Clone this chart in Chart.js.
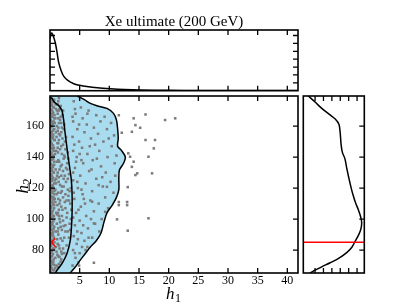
<!DOCTYPE html>
<html>
<head>
<meta charset="utf-8">
<script src="https://cdn.jsdelivr.net/npm/chart.js@4.4.0/dist/chart.umd.min.js"></script>
<style>
  html, body { margin: 0; padding: 0; background: #fff; }
  #wrap { position: relative; width: 405px; height: 304px; }
  #wrap canvas { position: absolute; left: 0; top: 0; }
</style>
</head>
<body>
<div id="wrap">
  <canvas id="main" width="405" height="304"></canvas>
  <canvas id="topm" width="405" height="304"></canvas>
  <canvas id="sidem" width="405" height="304"></canvas>
</div>
<script>
var SERIF = "'Liberation Serif', 'DejaVu Serif', serif";

var titleText = 'Xe ultimate (200 GeV)';
var h1Range = [0, 41.8];
var h2Range = [65.2, 179.4];
var h1Ticks = [5, 10, 15, 20, 25, 30, 35, 40];
var h2Ticks = [80, 100, 120, 140, 160];
var topTicks = [1, 2, 3, 4, 5, 6, 7];
var sideTicks = [1, 2, 3, 4, 5, 6];
var trueH2 = 85;

// contours [h1, h2], listed top to bottom
var outerContour = [[4.6,179.4],[5.8,177],[6.8,174.6],[7.9,173.1],[9.6,171.4],[10.7,168.2],[11.2,164],[11.4,158],
  [11.5,152],[11.4,147],[12.0,144.5],[12.7,140],[12.4,136],[11.7,131.6],[11.6,126],[11.6,119],[11.2,114],
  [10.5,109],[9.6,104],[9.1,98],[8.6,91],[7.8,86],[6.8,82],[5.9,77.5],[5.1,73.5],[4.3,69.2],[3.4,65.2]];
var innerContour = [[0.0,178.6],[0.35,177.8],[0.62,176],[1.0,174.6],[1.46,173.2],[1.8,171.5],[2.04,169.7],
  [2.3,164],[2.5,157],[2.76,149],[3.05,140.2],[3.3,133.7],[3.6,125],[3.72,116],[3.72,104],[3.62,95],
  [3.43,86.5],[2.88,77.9],[2.04,71.4],[1.2,67.1],[0.9,65.2]];
var trueMark = [[0.9,87.5],[0.24,85],[0.9,82.1]];

// samples [h1, h2]
var ptsEdge = [[0.1,66],[0.3,68],[0.15,69.5],[0.4,71],[0.2,73],[0.05,74.5],[0.35,76],[0.1,78],[0.25,79.5],
  [0.45,81],[0.1,83],[0.3,84.5],[0.2,86],[0.05,88],[0.4,89.5],[0.15,91],[0.3,93],[0.1,95],[0.35,96.5],
  [0.2,98],[0.05,100],[0.4,101.5],[0.15,103],[0.3,105],[0.1,107],[0.25,108.5],[0.45,110],[0.05,112],
  [0.3,113.5],[0.15,115],[0.35,117],[0.1,119],[0.25,120.5],[0.4,122],[0.05,124],[0.2,126],[0.35,127.5],
  [0.1,129],[0.3,131],[0.15,133],[0.45,134.5],[0.05,136],[0.25,138],[0.35,140],[0.1,141.5],[0.2,143],
  [0.4,145],[0.05,147],[0.3,148.5],[0.15,150],[0.35,152],[0.1,154],[0.25,155.5],[0.45,157],[0.05,159],
  [0.2,161],[0.35,162.5],[0.1,164],[0.3,166],[0.15,168],[0.4,169.5],[0.05,171],[0.25,173],[0.1,175],
  [0.35,176.5],[0.2,178]];
var ptsEdge2 = [[0.5,67],[0.2,68.8],[0.7,70.5],[0.35,72.3],[0.6,74],[0.15,75.8],[0.5,77.5],[0.3,79.2],
  [0.7,81],[0.2,82.7],[0.55,84.4],[0.35,86.2],[0.65,88],[0.25,89.7],[0.5,91.5],[0.15,93.2],[0.7,95],
  [0.4,96.8],[0.55,98.5],[0.25,100.3],[0.65,102],[0.35,103.8],[0.5,105.5],[0.2,107.3],[0.7,109],
  [0.4,110.8],[0.55,112.5],[0.25,114.3],[0.65,116],[0.35,117.8],[0.5,119.5],[0.15,121.3],[0.7,123],
  [0.4,124.8],[0.55,126.5],[0.25,128.3],[0.65,130],[0.35,131.8],[0.5,133.5],[0.2,135.3],[0.7,137],
  [0.4,138.8],[0.55,140.5],[0.25,142.3],[0.65,144],[0.35,145.8],[0.5,147.5],[0.15,149.3],[0.7,151],
  [0.4,152.8],[0.55,154.5],[0.25,156.3],[0.65,158],[0.35,159.8],[0.5,161.5],[0.2,163.3],[0.7,165],
  [0.4,166.8],[0.55,168.5],[0.25,170.3],[0.65,172],[0.35,173.8],[0.5,175.5],[0.2,177.3]];
var ptsNear = [[0.7,67],[1.1,70],[0.55,72.5],[0.9,75],[1.25,77],[0.6,80],[1.0,82],[0.75,85],[1.2,87],
  [0.5,90],[0.95,92],[0.65,95],[1.15,97],[0.8,100],[0.55,102],[1.05,104],[0.7,107],[1.25,109],[0.9,111],
  [0.6,114],[1.1,116],[0.75,118],[0.5,121],[1.0,123],[0.85,125],[1.2,128],[0.6,130],[0.95,132],[0.7,135],
  [1.15,137],[0.55,139],[0.85,142],[1.05,144],[0.65,146],[1.25,149],[0.8,151],[0.5,153],[1.0,156],
  [0.7,158],[1.15,160],[0.6,163],[0.9,165],[0.75,167],[1.2,170],[0.55,172],[0.95,174],[0.7,177],
  [0.85,68.5],[1.1,79],[0.6,93.5],[1.2,103],[0.8,113],[1.05,126],[0.6,141],[1.1,153],[0.8,162],
  [1.0,171],[0.65,88],[0.9,119]];
var ptsNear2 = [[1.3,69],[1.8,72.5],[1.4,76],[2.0,77.5],[1.5,83],[1.8,87.5],[1.3,92],[2.3,95.5],[1.6,100],
  [1.35,104],[2.1,106],[1.7,112],[2.2,114],[1.35,117],[2.0,121],[1.45,124],[2.5,128],[1.3,130],[2.0,135],
  [1.55,137],[2.3,139],[1.35,143],[1.9,147],[1.4,149],[2.1,152],[1.7,154],[1.3,157],[2.0,159],[1.5,162],
  [1.8,166],[1.3,168],[1.6,171],[1.3,174],[1.5,178],[2.8,112],[3.0,119],[2.6,96],[2.9,132],[2.6,145],
  [2.2,170]];
var ptsMid = [[1.5,71],[1.9,74],[2.4,78],[1.6,81],[2.8,83],[2.1,86],[3.2,88],[1.4,90],[2.6,92],[1.8,95],
  [3.3,97],[2.2,99],[1.5,102],[2.9,104],[3.6,106],[1.9,108],[2.5,111],[1.4,113],[3.1,115],[2.0,118],
  [3.5,120],[1.7,122],[2.7,124],[1.5,127],[3.2,129],[2.2,131],[1.8,134],[2.9,136],[1.4,138],[2.5,140],
  [3.0,143],[1.7,145],[2.2,148],[1.5,151],[2.7,153],[1.9,156],[1.4,159],[2.4,161],[1.7,164],[2.1,167],
  [1.5,170],[1.8,173],[1.4,176],[2.0,93],[1.6,110],[2.3,126],[1.3,146],[2.6,116],[3.4,110],[2.0,102],
  [1.3,84],[2.4,141],[1.9,128],[3.0,92],[1.6,75.5],[2.2,81],[3.4,93],[2.8,101],[1.5,106],[3.3,118],
  [2.3,121],[1.6,132],[2.7,133],[3.1,139],[2.0,142],[1.5,155],[2.3,158],[1.9,162],[1.4,165],[2.5,150],
  [3.0,126],[1.8,117],[2.6,107],[1.7,98],[3.5,100],[2.4,88],[1.9,79],[1.4,94],[3.2,112]];
var ptsBand = [[4.0,176],[5.2,172],[6.5,170],[4.3,168],[7.8,167],[9.2,166],[5.5,165],[3.9,163],[8.5,163],
  [10.3,162],[6.2,161],[7.4,159],[4.6,158],[9.6,158],[5.8,156],[8.1,155],[10.8,154],[3.8,153],[6.9,152],
  [4.9,150],[9.0,150],[7.6,148],[10.4,147],[5.4,146],[3.9,144],[8.3,144],[6.3,142],[11.2,141],[4.5,140],
  [9.7,140],[7.2,138],[5.6,136],[10.9,136],[8.6,134],[4.2,133],[6.6,131],[9.4,130],[11.0,128],[5.1,128],
  [7.8,126],[3.9,125],[10.2,124],[6.0,123],[8.9,121],[4.7,120],[7.1,118],[10.7,117],[5.5,116],[9.3,114],
  [4.1,113],[6.8,112],[8.2,110],[5.2,108],[9.8,107],[7.4,105],[4.4,104],[6.1,102],[8.7,100],[5.0,99],
  [7.6,97],[4.2,96],[6.4,94],[8.3,92],[5.3,91],[4.0,89],[7.1,88],[5.8,86],[4.5,84],[6.3,82],[3.9,80],
  [5.0,78],[4.3,75],[4.8,72],[3.8,70],[6.0,80],[4.6,92],[5.9,110],[6.7,147],[7.9,139],[8.8,127],
  [9.9,152],[6.3,168],[7.0,132],[5.3,138],[4.2,171],[3.8,166],[4.9,161],[4.1,148],[5.0,142],[4.4,137],
  [3.9,130],[4.6,124],[5.3,119],[4.0,117],[5.7,113],[4.8,106],[3.9,101],[5.6,96],[4.7,87],[5.4,82],
  [4.2,78],[4.9,70],[6.5,88],[6.9,100],[8.2,121.9],[9.6,120.8],[7.1,111.2],[9.3,104.7],[7.4,97.2]];
var ptsOut = [[11.6,167],[14.1,165],[16.1,167.5],[14.4,160.6],[15.2,158.9],[19.4,163.9],[21.1,165],
  [12.1,155.7],[13.8,156.3],[16.1,151],[17.7,151],[17.5,145.6],[13.2,142.4],[13.5,140.2],[14.1,137],
  [16.6,140.2],[13.8,133.7],[14.7,129.5],[14.4,128.4],[17.2,129.5],[13.1,120.6],[11.6,111],[13.0,111],
  [11.6,109],[13.0,109],[11.3,99.8],[16.6,100.5],[13.1,92.5],[7.4,71.8]];

// marginal densities
var topDensity = [[0.0,6.6],[0.15,7.25],[0.3,7.3],[0.55,6.95],[0.9,6.05],[1.2,4.8],[1.46,3.6],[1.9,2.5],
  [2.3,1.85],[3.0,1.3],[4.0,0.88],[5.0,0.68],[6.2,0.52],[8.0,0.36],[10.2,0.24],[12.5,0.15],[15.2,0.09],
  [20,0.05],[25,0.03],[30,0.02],[35,0.015],[41.8,0.01]];
var sideDensity = [[0.2,179.4],[1.0,175.5],[1.8,171.4],[2.7,167.5],[3.4,164.5],[3.85,161],[4.0,155],
  [4.1,148],[4.25,143],[4.55,139],[4.8,132],[5.0,127],[5.3,120],[5.55,115],[5.85,110],[6.15,106],
  [6.45,101],[6.55,97.5],[6.45,93.5],[6.2,90],[5.8,86],[5.4,82],[4.8,78.5],[3.8,74.6],[2.8,71.8],
  [1.8,69.2],[1.0,67],[0.4,65.2]];

function xy(list) {
  return list.map(function (p) { return { x: p[0], y: p[1] }; });
}

// black frame with inward ticks, like the matplotlib panels
var framePlugin = {
  id: 'frame',
  afterDatasetsDraw: function (chart, args, opts) {
    var a = chart.chartArea, ctx = chart.ctx;
    var xs = chart.scales.x, ys = chart.scales.y, L = 5;
    ctx.save();
    ctx.strokeStyle = '#000';
    ctx.lineWidth = 1.3;
    ctx.beginPath();
    (opts.x || []).forEach(function (v) {
      var px = xs.getPixelForValue(v);
      ctx.moveTo(px, a.top); ctx.lineTo(px, a.top + L);
      ctx.moveTo(px, a.bottom); ctx.lineTo(px, a.bottom - L);
    });
    (opts.y || []).forEach(function (v) {
      var py = ys.getPixelForValue(v);
      if (opts.left !== false) { ctx.moveTo(a.left, py); ctx.lineTo(a.left + L, py); }
      ctx.moveTo(a.right, py); ctx.lineTo(a.right - L, py);
    });
    ctx.stroke();
    ctx.lineWidth = 1.6;
    ctx.strokeRect(a.left, a.top, a.right - a.left, a.bottom - a.top);
    ctx.restore();
  }
};

function drawSub(ctx, base, sub, x, y) {
  ctx.font = 'italic 17px ' + SERIF;
  ctx.fillText(base, x, y);
  var w = ctx.measureText(base).width;
  ctx.font = '12px ' + SERIF;
  ctx.fillText(sub, x + w + 0.5, y + 3);
}

var axisTitles = {
  id: 'axisTitles',
  afterDraw: function (chart) {
    var ctx = chart.ctx, a = chart.chartArea;
    ctx.save();
    ctx.fillStyle = '#000';
    ctx.textBaseline = 'alphabetic';
    drawSub(ctx, 'h', '1', (a.left + a.right) / 2 - 8, 299);
    ctx.translate(28, (a.top + a.bottom) / 2 + 9);
    ctx.rotate(-Math.PI / 2);
    drawSub(ctx, 'h', '2', 0, 0);
    ctx.restore();
  }
};

var tickFont = { family: SERIF, size: 12 };
var hidden = { display: false };

new Chart(document.getElementById('main'), {
  type: 'line',
  data: {
    datasets: [
      { data: xy(trueMark), borderColor: '#ff0000', borderWidth: 1.5, pointRadius: 0, fill: false },
      { data: xy(innerContour), borderColor: '#000', borderWidth: 1.5, pointRadius: 0, tension: 0.3, fill: false },
      { data: xy(outerContour), borderColor: '#000', borderWidth: 1.5, pointRadius: 0, tension: 0.3, fill: false },
      {
        data: xy(ptsEdge.concat(ptsEdge2, ptsNear, ptsNear2, ptsMid, ptsBand, ptsOut)),
        showLine: false, pointStyle: 'rect', pointRadius: 1.8,
        pointBackgroundColor: '#7c7c7c', pointBorderWidth: 0, pointBorderColor: 'rgba(0,0,0,0)'
      },
      {
        data: xy(outerContour), borderColor: 'rgba(0,0,0,0)', borderWidth: 1, pointRadius: 0,
        tension: 0.3, fill: { value: 0 }, backgroundColor: 'rgb(170,220,240)'
      }
    ]
  },
  options: {
    indexAxis: 'y',
    responsive: false,
    animation: false,
    events: [],
    layout: { padding: { top: 96, right: 107, bottom: 0, left: 0 } },
    plugins: { legend: hidden, tooltip: { enabled: false }, frame: { x: h1Ticks, y: h2Ticks } },
    scales: {
      x: {
        type: 'linear', position: 'bottom', min: h1Range[0], max: h1Range[1],
        afterBuildTicks: function (s) { s.ticks = h1Ticks.map(function (v) { return { value: v }; }); },
        afterFit: function (s) { s.height = 31; },
        grid: { display: false, drawTicks: false }, border: { display: false },
        ticks: { color: '#000', font: tickFont, padding: 1, maxRotation: 0, autoSkip: false }
      },
      y: {
        type: 'linear', position: 'left', min: h2Range[0], max: h2Range[1],
        afterBuildTicks: function (s) { s.ticks = h2Ticks.map(function (v) { return { value: v }; }); },
        afterFit: function (s) { s.width = 50; },
        grid: { display: false, drawTicks: false }, border: { display: false },
        ticks: { color: '#000', font: tickFont, padding: 6, autoSkip: false }
      }
    }
  },
  plugins: [framePlugin, axisTitles]
});

new Chart(document.getElementById('topm'), {
  type: 'line',
  data: {
    datasets: [
      { data: xy(topDensity), borderColor: '#000', borderWidth: 1.5, pointRadius: 0, tension: 0.3, fill: false }
    ]
  },
  options: {
    responsive: false,
    animation: false,
    events: [],
    layout: { padding: { top: 0, right: 107, bottom: 213.3, left: 50 } },
    plugins: {
      legend: hidden, tooltip: { enabled: false },
      title: {
        display: true, text: titleText, color: '#000',
        font: { family: SERIF, size: 15, weight: 'normal', lineHeight: 1.1 },
        padding: { top: 13.5, bottom: 0 }
      },
      frame: { x: h1Ticks, y: topTicks }
    },
    scales: {
      x: { type: 'linear', display: false, min: h1Range[0], max: h1Range[1] },
      y: { type: 'linear', display: false, min: 0, max: 7.7 }
    }
  },
  plugins: [framePlugin]
});

new Chart(document.getElementById('sidem'), {
  type: 'line',
  data: {
    datasets: [
      { data: xy([[-0.4, trueH2], [6.86, trueH2]]), borderColor: '#ff0000', borderWidth: 1.5, pointRadius: 0, fill: false },
      { data: xy(sideDensity), borderColor: '#000', borderWidth: 1.5, pointRadius: 0, tension: 0.3, fill: false }
    ]
  },
  options: {
    indexAxis: 'y',
    responsive: false,
    animation: false,
    events: [],
    layout: { padding: { top: 96, right: 40.7, bottom: 31, left: 303.3 } },
    plugins: { legend: hidden, tooltip: { enabled: false }, frame: { x: sideTicks, y: h2Ticks, left: false } },
    scales: {
      x: { type: 'linear', display: false, min: -0.4, max: 6.86 },
      y: { type: 'linear', display: false, min: h2Range[0], max: h2Range[1] }
    }
  },
  plugins: [framePlugin]
});
</script>
</body>
</html>
